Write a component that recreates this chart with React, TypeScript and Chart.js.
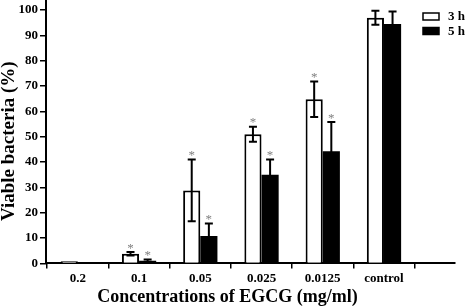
import React, { useEffect, useRef } from "react";
import { Chart, registerables } from "chart.js";

Chart.register(...registerables);

const categories = ["0.2", "0.1", "0.05", "0.025", "0.0125", "control"];
const seriesLabels = ["3 h", "5 h"];
const values3h = [0.8, 3.8, 28.8, 51, 64.8, 97];
const err3h = [0, 0.7, 12.2, 3, 7, 2.8];
const values5h = [0, 1.0, 10.8, 35, 44.3, 94.5];
const err5h = [0, 0.5, 5, 6, 11.5, 5];
const sig3h = [false, true, true, true, true, false];
const sig5h = [false, true, true, true, true, false];
const yTicks = [0, 10, 20, 30, 40, 50, 60, 70, 80, 90, 100];

const FONT = "'Liberation Serif', 'Times New Roman', serif";

const overlayPlugin = {
  id: "overlay",
  afterDatasetsDraw(chart: any) {
    const ctx = chart.ctx;
    const yScale = chart.scales.y;
    const groups = [
      { vals: values3h, errs: err3h, sigs: sig3h },
      { vals: values5h, errs: err5h, sigs: sig5h },
    ];
    ctx.save();
    groups.forEach((g, di) => {
      const meta = chart.getDatasetMeta(di);
      meta.data.forEach((bar: any, i: number) => {
        const v = g.vals[i];
        const e = g.errs[i];
        const cx = bar.x;
        const top = yScale.getPixelForValue(v + e);
        const bot = yScale.getPixelForValue(Math.max(0, v - e));
        if (e > 0) {
          ctx.strokeStyle = "#000";
          ctx.lineWidth = 2;
          ctx.beginPath();
          ctx.moveTo(cx, top);
          ctx.lineTo(cx, bot);
          ctx.moveTo(cx - 4, top);
          ctx.lineTo(cx + 4, top);
          ctx.moveTo(cx - 4, bot);
          ctx.lineTo(cx + 4, bot);
          ctx.stroke();
        }
        if (g.sigs[i]) {
          ctx.fillStyle = "#808080";
          ctx.font = `13px ${FONT}`;
          ctx.textAlign = "center";
          ctx.textBaseline = "alphabetic";
          ctx.fillText("*", cx, top - 0.5);
        }
      });
    });
    ctx.restore();
  },
  afterDraw(chart: any) {
    const ctx = chart.ctx;
    const area = chart.chartArea;
    ctx.save();
    chart.data.datasets.forEach((ds: any, i: number) => {
      const bx = area.right - 32;
      const by = 13 + i * 14.5;
      ctx.fillStyle = ds.backgroundColor;
      ctx.fillRect(bx, by, 16, 7);
      ctx.strokeStyle = "#000";
      ctx.lineWidth = 1.5;
      ctx.strokeRect(bx, by, 16, 7);
      ctx.fillStyle = "#000";
      ctx.font = `bold 13px ${FONT}`;
      ctx.textAlign = "left";
      ctx.textBaseline = "middle";
      ctx.fillText(ds.label, bx + 25, by + 4);
    });
    ctx.restore();
  },
};

export default function App() {
  const canvasRef = useRef<HTMLCanvasElement | null>(null);

  useEffect(() => {
    if (!canvasRef.current) return;
    const chart = new Chart(canvasRef.current, {
      type: "bar",
      data: {
        datasets: [
          {
            label: seriesLabels[0],
            data: values3h.map((v, i) => ({ x: i, y: v })),
            backgroundColor: "#ffffff",
            borderColor: "#000000",
            borderWidth: 2,
          },
          {
            label: seriesLabels[1],
            data: values5h.map((v, i) => ({ x: i, y: v })),
            backgroundColor: "#000000",
            borderColor: "#000000",
            borderWidth: 0,
          },
        ],
      },
      options: {
        animation: false,
        responsive: true,
        maintainAspectRatio: false,
        barPercentage: 1,
        categoryPercentage: 0.56,
        layout: { padding: { left: 0, right: 15, top: 0, bottom: 0 } },
        plugins: {
          legend: { display: false },
          tooltip: { enabled: false },
          title: {
            display: true,
            position: "bottom",
            text: "Concentrations of EGCG (mg/ml)",
            color: "#000",
            font: { family: FONT, size: 18, weight: "bold" },
            padding: { top: 3, bottom: 0 },
          },
        },
        scales: {
          x: {
            type: "linear",
            min: -0.52,
            max: 6.16,
            offset: false,
            bounds: "data",
            afterBuildTicks: (scale: any) => {
              const t = categories.map((_, i) => ({ value: i - 0.5 }));
              t.push({ value: categories.length - 0.5 });
              scale.ticks = t;
            },
            afterFit: (scale: any) => {
              scale.height = 20;
              scale.paddingLeft = 0;
              scale.paddingRight = 0;
            },
            ticks: {
              autoSkip: false,
              maxRotation: 0,
              minRotation: 0,
              labelOffset: 30.6,
              padding: 2,
              color: "#000",
              font: { family: FONT, size: 13, weight: "bold" },
              callback: (_v: any, index: number) => categories[index] ?? "",
            },
            grid: {
              display: true,
              drawOnChartArea: false,
              drawTicks: true,
              tickLength: 5,
              color: "#000",
              lineWidth: 1.5,
              offset: false,
            },
            border: { display: true, color: "#000", width: 2 },
          },
          y: {
            type: "linear",
            min: 0,
            max: 104,
            afterBuildTicks: (scale: any) => {
              scale.ticks = yTicks.map((v) => ({ value: v }));
            },
            afterFit: (scale: any) => {
              scale.width = 46;
              scale.paddingTop = 0;
              scale.paddingBottom = 0;
            },
            ticks: {
              padding: 2,
              color: "#000",
              font: { family: FONT, size: 13, weight: "bold" },
            },
            grid: {
              display: true,
              drawOnChartArea: false,
              drawTicks: true,
              tickLength: 6,
              color: "#000",
              lineWidth: 1.5,
            },
            border: { display: true, color: "#000", width: 2 },
            title: {
              display: true,
              text: "Viable bacteria (%)    ",
              color: "#000",
              font: { family: FONT, size: 19, weight: "bold", lineHeight: 1 },
              padding: 0,
            },
          },
        },
      },
      plugins: [overlayPlugin],
    } as any);
    return () => chart.destroy();
  }, []);

  return (
    <div style={{ position: "absolute", left: 0, top: 0, width: 470, height: 308, background: "#fff" }}>
      <canvas ref={canvasRef} />
    </div>
  );
}
